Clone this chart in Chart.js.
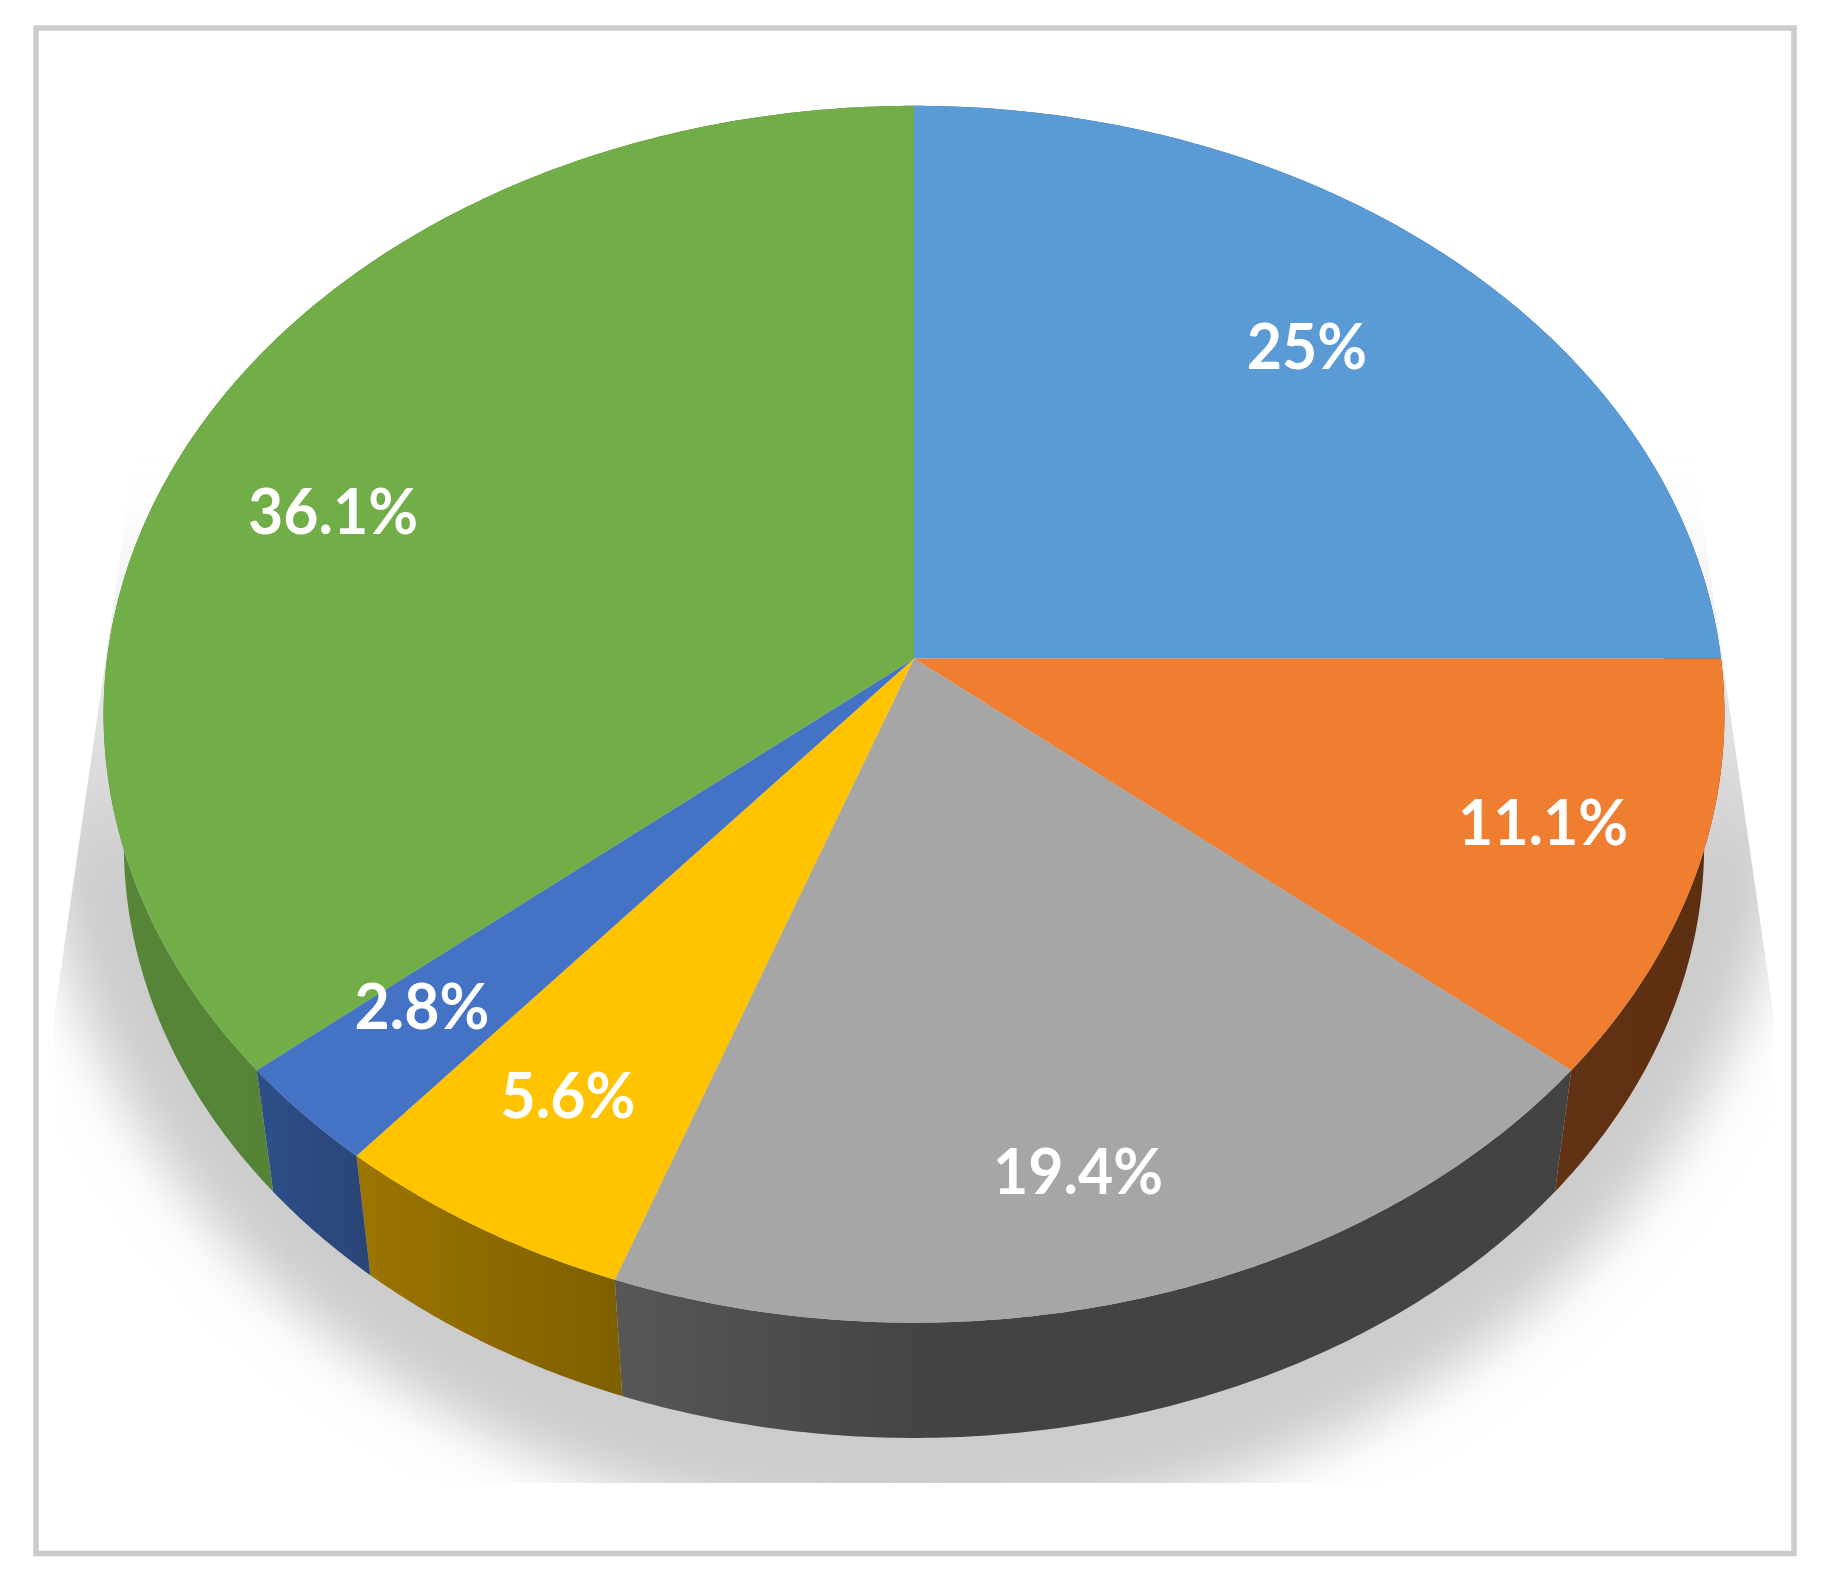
<!DOCTYPE html>
<html>
<head>
<meta charset="utf-8">
<style>
    html, body { margin: 0; background: #fff; }
    canvas { display: block; filter: blur(0.7px); }
</style>
<script src="https://cdn.jsdelivr.net/npm/chart.js@4/dist/chart.umd.min.js"></script>
</head>
<body>
<canvas id="shareChart" width="1824" height="1587"></canvas>
<script>
const categories = ['Slice 1', 'Slice 2', 'Slice 3', 'Slice 4', 'Slice 5', 'Slice 6'];
const shares = [25, 11.1, 19.4, 5.6, 2.8, 36.1];

const topColors = ['#5b9bd5', '#ef7e31', '#a6a6a6', '#ffc300', '#4472c4', '#72ae48'];
const wallColors = [
    ['#35597b', '#35597b'],
    ['#623214', '#5c2e10'],
    ['#575757', '#434343', '#434343', '#434343'],
    ['#9c7500', '#7f6000'],
    ['#2e4f8a', '#2a4679'],
    ['#578638', '#4d7a30']
];
const labelSpots = [[1307, 348], [1543, 824], [1078, 1173], [568, 1097], [422, 1008], [333, 513]];

// the tilted disc: circle (u, v) goes through a perspective map
const cx = 914, cy = 658.4, rx = 807, ry = 603.3, tilt = -0.0918;
// bottom rim is the top rim shrunk toward the vanishing point
const vanishY = 5933, depth = 0.975;

function topPoint(angle) {
    const u = Math.cos(angle), v = Math.sin(angle);
    const d = 1 + tilt * v;
    return [cx + rx * u / d, cy + ry * v / d];
}

function bottomPoint(angle) {
    const p = topPoint(angle);
    return [cx + depth * (p[0] - cx), vanishY + depth * (p[1] - vanishY)];
}

function rimSteps(start, end) {
    const n = Math.max(2, Math.ceil((end - start) / 0.01));
    const out = [];
    for (let i = 0; i <= n; i++) out.push(start + (end - start) * i / n);
    return out;
}

function drawFrame(ctx) {
    ctx.strokeStyle = '#cdcbcc';
    ctx.lineWidth = 5.5;
    ctx.strokeRect(36, 28, 1758, 1525.5);
}

function drawShadow(ctx) {
    ctx.save();
    ctx.beginPath();
    ctx.moveTo(cx + 771, 400);
    ctx.lineTo(cx + 859, 1010);
    ctx.lineTo(cx + 859, 1483);
    ctx.lineTo(cx - 859, 1483);
    ctx.lineTo(cx - 859, 1010);
    ctx.lineTo(cx - 771, 400);
    ctx.closePath();
    ctx.clip();
    const fade = ctx.createLinearGradient(0, 500, 0, 880);
    fade.addColorStop(0, 'rgba(204, 204, 204, 0)');
    fade.addColorStop(1, 'rgba(204, 204, 204, 1)');
    ctx.filter = 'blur(28px)';
    ctx.fillStyle = fade;
    ctx.beginPath();
    ctx.ellipse(cx, 760, 880, 770, 0, 0, Math.PI * 2);
    ctx.fill();
    ctx.restore();
}

function drawWall(ctx, arc, colors) {
    const steps = rimSteps(arc.startAngle, arc.endAngle);
    const xs = steps.map(a => topPoint(a)[0]);
    const shade = ctx.createLinearGradient(Math.min(...xs), 0, Math.max(...xs), 0);
    colors.forEach((c, i) => shade.addColorStop(i / (colors.length - 1), c));
    ctx.beginPath();
    steps.forEach((a, i) => {
        const p = topPoint(a);
        if (i === 0) ctx.moveTo(p[0], p[1]);
        else ctx.lineTo(p[0], p[1]);
    });
    steps.slice().reverse().forEach(a => {
        const p = bottomPoint(a);
        ctx.lineTo(p[0], p[1]);
    });
    ctx.closePath();
    ctx.fillStyle = shade;
    ctx.fill();
}

function drawFace(ctx, arc, color) {
    ctx.beginPath();
    ctx.moveTo(cx, cy);
    rimSteps(arc.startAngle, arc.endAngle).forEach(a => {
        const p = topPoint(a);
        ctx.lineTo(p[0], p[1]);
    });
    ctx.closePath();
    ctx.fillStyle = color;
    ctx.fill();
}

function drawLabels(ctx) {
    ctx.fillStyle = '#fff';
    ctx.font = '700 64px Lato';
    ctx.textAlign = 'center';
    ctx.textBaseline = 'middle';
    shares.forEach((v, i) => {
        ctx.save();
        ctx.translate(labelSpots[i][0], labelSpots[i][1]);
        ctx.scale(0.95, 1);
        ctx.fillText(v + '%', 0, 0);
        ctx.restore();
    });
}

// the library works out the slice angles, this plugin lays them on the tilted disc
const tiltedPie = {
    id: 'tiltedPie',
    beforeDatasetsDraw(chart) {
        const ctx = chart.ctx;
        const arcs = chart.getDatasetMeta(0).data;
        drawFrame(ctx);
        drawShadow(ctx);
        arcs.forEach((arc, i) => drawWall(ctx, arc, wallColors[i]));
        arcs.forEach((arc, i) => drawFace(ctx, arc, topColors[i]));
        drawLabels(ctx);
        return false;
    }
};

new Chart(document.getElementById('shareChart'), {
    type: 'pie',
    data: {
        labels: categories,
        datasets: [{
            data: shares,
            backgroundColor: topColors,
            borderWidth: 0
        }]
    },
    options: {
        responsive: false,
        animation: false,
        plugins: {
            legend: { display: false },
            tooltip: { enabled: false }
        }
    },
    plugins: [tiltedPie]
});
</script>
</body>
</html>
